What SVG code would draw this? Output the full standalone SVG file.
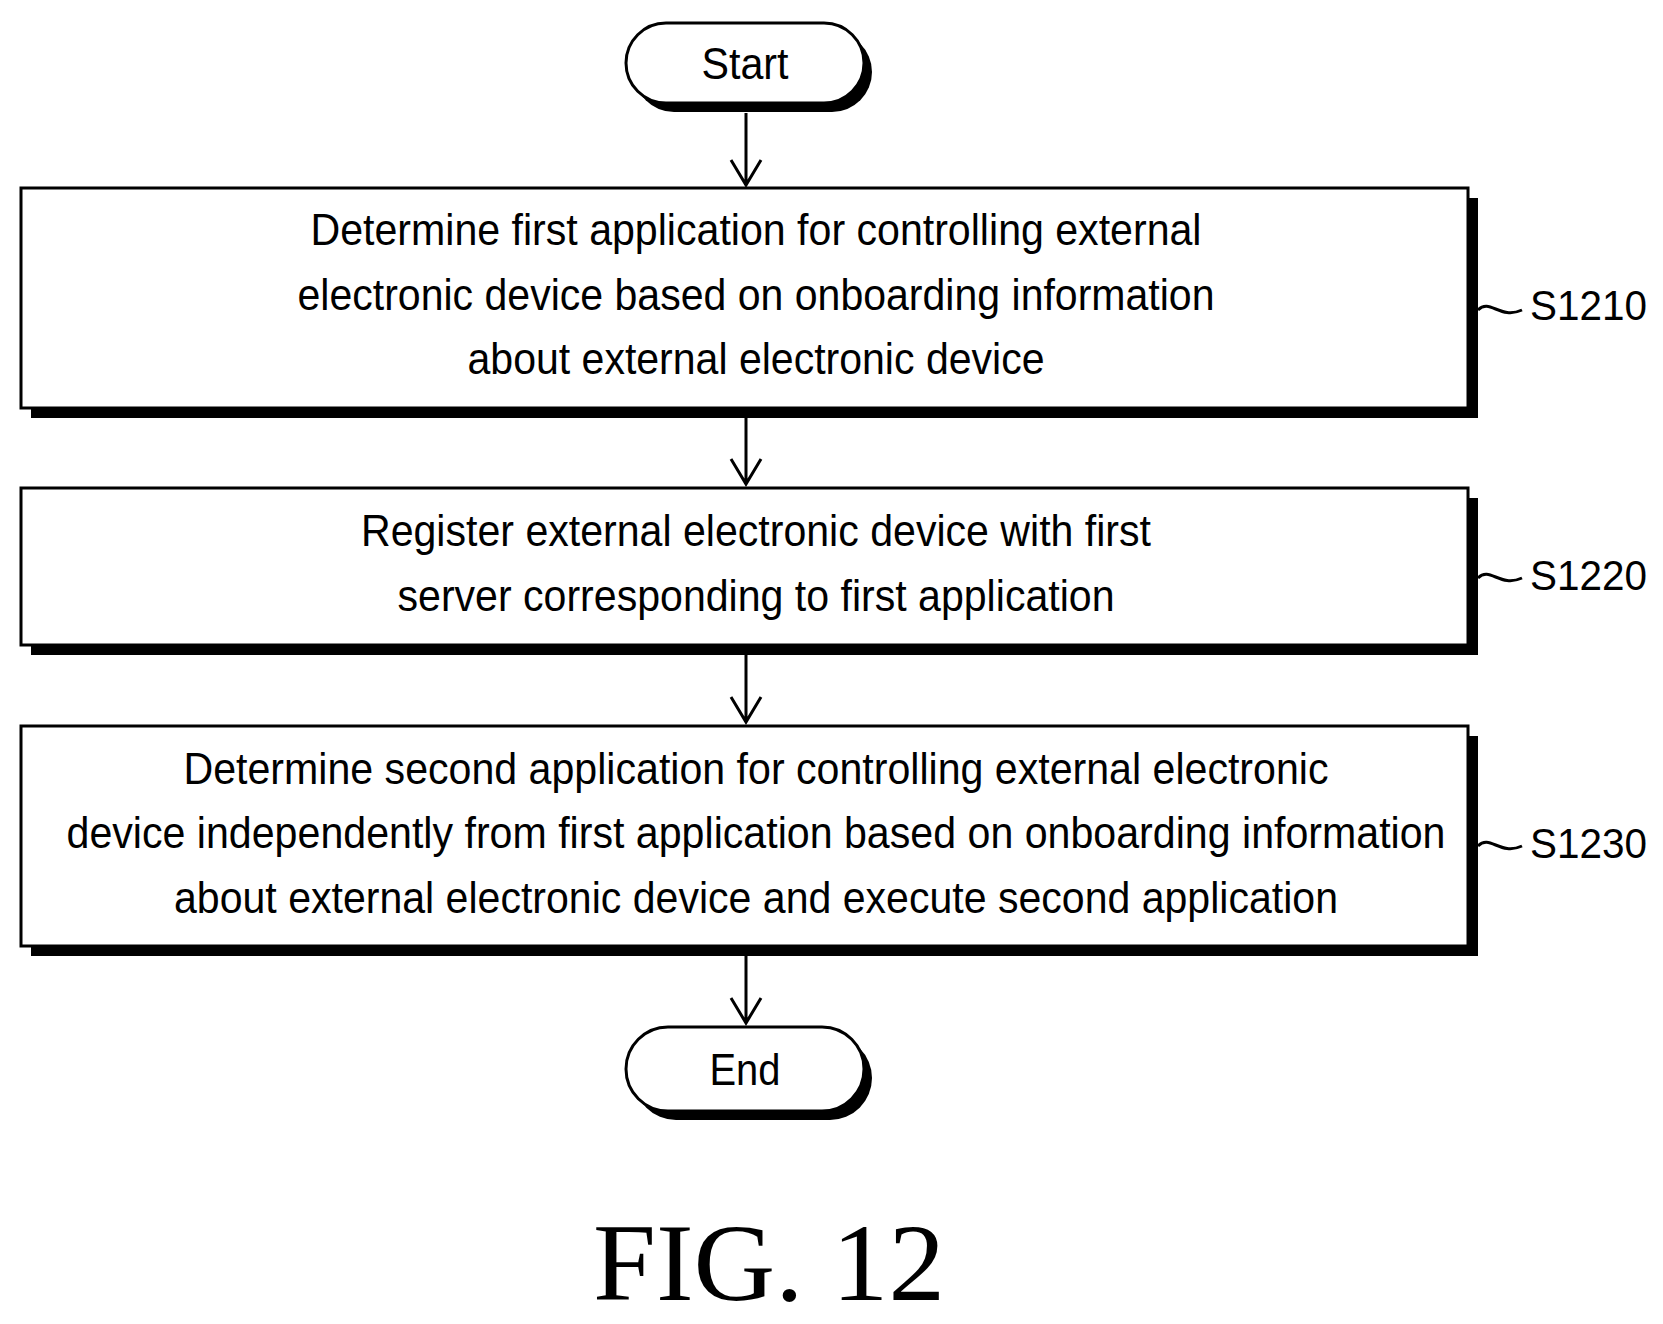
<svg xmlns="http://www.w3.org/2000/svg" width="1663" height="1324" viewBox="0 0 1663 1324">
<style>
.b{fill:#fff;stroke:#000;stroke-width:3}
.s{fill:#000}
.t{font-family:"Liberation Sans",Arial,sans-serif;font-size:44px;text-anchor:middle;fill:#000}
.l{font-family:"Liberation Sans",Arial,sans-serif;font-size:42px;fill:#000}
.c{stroke:#000;stroke-width:3;fill:none}
</style>
<rect x="0" y="0" width="1663" height="1324" fill="#fff"/>
<g id="start">
<rect x="634" y="32" width="238" height="80" rx="40" class="s"/>
<rect x="626" y="23" width="238" height="80" rx="40" class="b"/>
<text x="745" y="79" class="t" textLength="87" lengthAdjust="spacingAndGlyphs">Start</text>
</g>
<g id="s1210">
<rect x="31" y="198" width="1447" height="220" class="s"/>
<rect x="21" y="188" width="1447" height="220" class="b"/>
<text x="756" y="245" class="t" textLength="891" lengthAdjust="spacingAndGlyphs">Determine first application for controlling external</text>
<text x="756" y="310" class="t" textLength="917" lengthAdjust="spacingAndGlyphs">electronic device based on onboarding information</text>
<text x="756" y="374" class="t" textLength="577" lengthAdjust="spacingAndGlyphs">about external electronic device</text>
<text x="1530" y="320" class="l" textLength="117" lengthAdjust="spacingAndGlyphs">S1210</text>
</g>
<g id="s1220">
<rect x="31" y="498" width="1447" height="157" class="s"/>
<rect x="21" y="488" width="1447" height="157" class="b"/>
<text x="756" y="546" class="t" textLength="790" lengthAdjust="spacingAndGlyphs">Register external electronic device with first</text>
<text x="756" y="611" class="t" textLength="717" lengthAdjust="spacingAndGlyphs">server corresponding to first application</text>
<text x="1530" y="590" class="l" textLength="117" lengthAdjust="spacingAndGlyphs">S1220</text>
</g>
<g id="s1230">
<rect x="31" y="736" width="1447" height="220" class="s"/>
<rect x="21" y="726" width="1447" height="220" class="b"/>
<text x="756" y="784" class="t" textLength="1145" lengthAdjust="spacingAndGlyphs">Determine second application for controlling external electronic</text>
<text x="756" y="848" class="t" textLength="1379" lengthAdjust="spacingAndGlyphs">device independently from first application based on onboarding information</text>
<text x="756" y="913" class="t" textLength="1164" lengthAdjust="spacingAndGlyphs">about external electronic device and execute second application</text>
<text x="1530" y="858" class="l" textLength="117" lengthAdjust="spacingAndGlyphs">S1230</text>
</g>
<g id="end">
<rect x="634" y="1036" width="238" height="84" rx="42" class="s"/>
<rect x="626" y="1027" width="238" height="84" rx="42" class="b"/>
<text x="745" y="1085" class="t" textLength="71" lengthAdjust="spacingAndGlyphs">End</text>
</g>
<g id="connectors">
<path class="c" d="M746,113 V182 M731,160 L746,185 L761,160"/>
<path class="c" d="M746,418 V482 M731,459 L746,484 L761,459"/>
<path class="c" d="M746,655 V720 M731,697 L746,722 L761,697"/>
<path class="c" d="M746,956 V1021 M731,998 L746,1023 L761,998"/>
<path class="c" stroke-width="2" d="M1478,310 C1490,298 1500,320 1522,310"/>
<path class="c" stroke-width="2" d="M1478,578 C1490,566 1500,588 1522,578"/>
<path class="c" stroke-width="2" d="M1478,846 C1490,834 1500,856 1522,846"/>
</g>
<text x="769" y="1300" font-family="Liberation Serif,serif" font-size="110" text-anchor="middle" textLength="352" lengthAdjust="spacingAndGlyphs">FIG. 12</text>
</svg>
